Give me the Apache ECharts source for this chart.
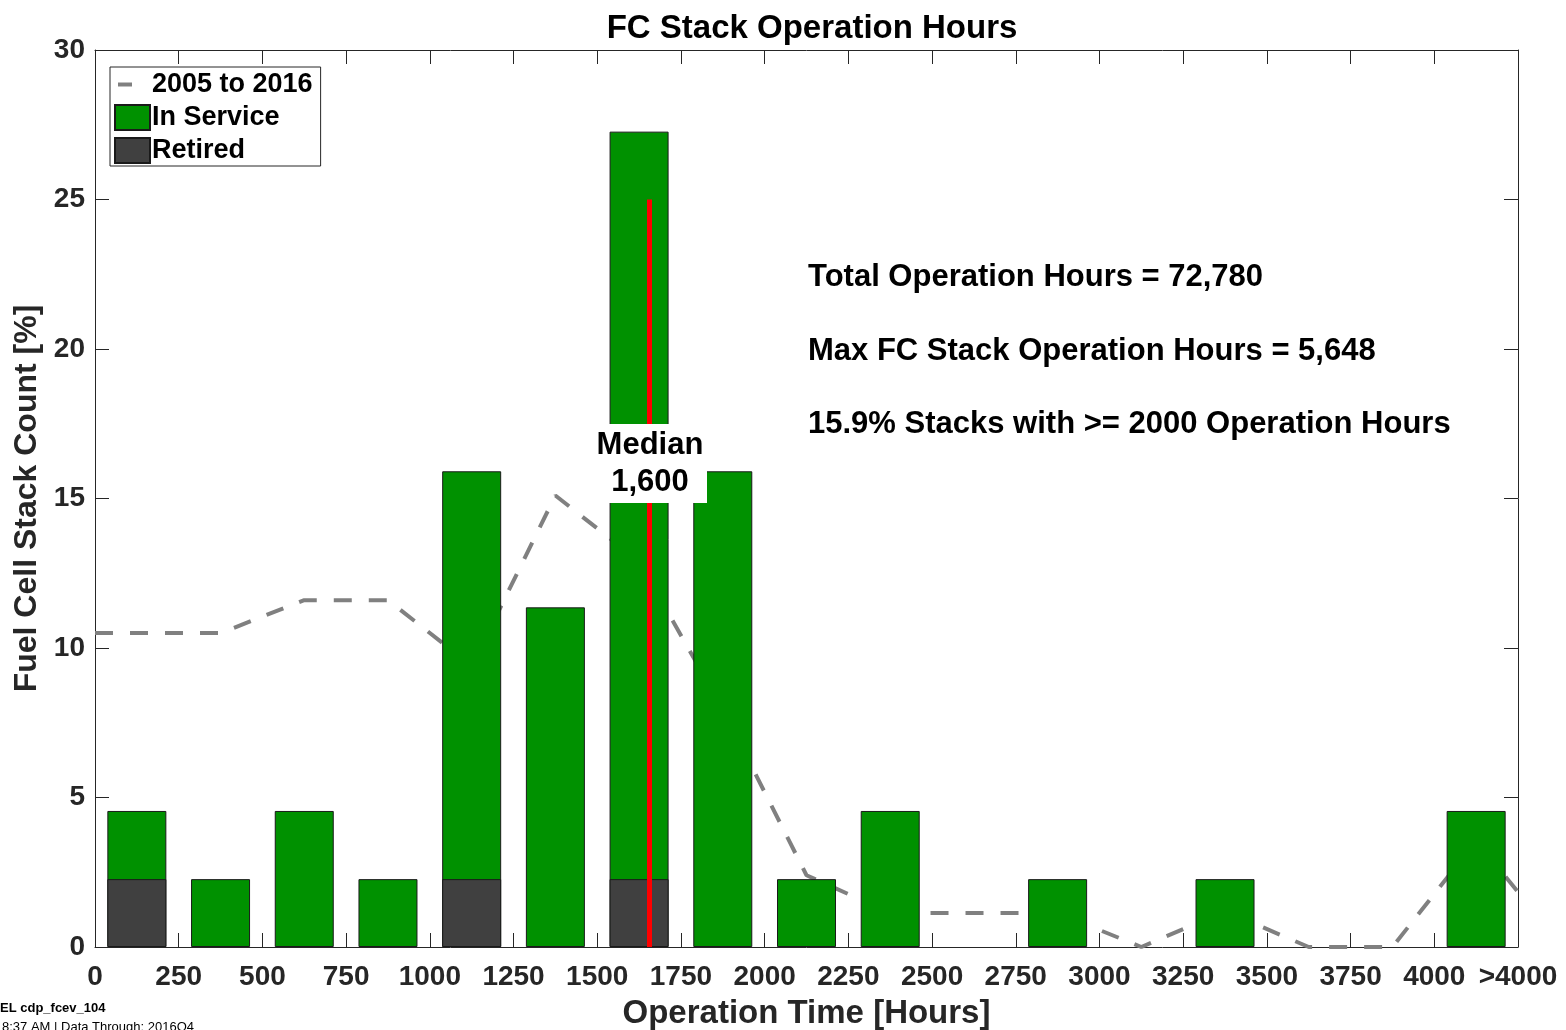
<!DOCTYPE html>
<html>
<head>
<meta charset="utf-8">
<title>FC Stack Operation Hours</title>
<script src="https://cdn.jsdelivr.net/npm/echarts@6/dist/echarts.min.js"></script>
<style>
  html, body { margin: 0; padding: 0; background: #fff; }
  #main { width: 1566px; height: 1030px; }
</style>
</head>
<body>
<div id="main"></div>
<script>
// bin centers (hours) and stack share per bin [%]
const binCenters = [125, 375, 625, 875, 1125, 1375, 1625, 1875, 2125, 2375, 2625, 2875, 3125, 3375, 3625, 3875, 4125];
const retired   = [2.27, 0, 0, 0, 2.27, 0, 2.27, 0, 0, 0, 0, 0, 0, 0, 0, 0, 0];
const inService = [2.28, 2.27, 4.55, 2.27, 13.64, 11.36, 25.0, 15.91, 2.27, 4.55, 0, 2.27, 0, 2.27, 0, 0, 4.55];

// 2005 to 2016 reference curve
const histX = [0, 125, 375, 625, 875, 1125, 1375, 1625, 1875, 2125, 2375, 2625, 2875, 3125, 3375, 3625, 3875, 4125, 4250];
const histY = [10.5, 10.5, 10.5, 11.6, 11.6, 9.4, 15.1, 12.9, 7.95, 2.4, 1.14, 1.14, 1.14, 0, 1.2, 0, 0, 3.55, 1.84];

const medianHours = 1655; // where the median marker is drawn
const medianTop = 25;

const notes = [
    'Total Operation Hours = 72,780',
    'Max FC Stack Operation Hours = 5,648',
    '15.9% Stacks with >= 2000 Operation Hours'
];

const FONT = 'Liberation Sans, Arial, Helvetica, sans-serif';
const AXIS_COLOR = '#262626';

// retired sits at the bottom, in service on top of it
const totals = binCenters.map((x, i) => [x, retired[i] + inService[i] || null]);
const retiredPts = binCenters.map((x, i) => [x, retired[i] || null]);

// ticks point into the plot, box axes stay on their own side
const tickIn = { show: true, inside: true, length: 14, lineStyle: { color: AXIS_COLOR, width: 1 } };
const boxLine = { show: true, onZero: false, lineStyle: { color: AXIS_COLOR, width: 1 } };

let myChart = echarts.init(document.getElementById('main'));

let option = {
    backgroundColor: '#ffffff',
    animation: false,
    title: {
        text: 'FC Stack Operation Hours',
        left: 807,
        top: 7,
        textAlign: 'center',
        textStyle: { fontFamily: FONT, fontSize: 33, fontWeight: 'bold', color: '#000' }
    },
    legend: {
        orient: 'vertical',
        left: 110,
        top: 67,
        padding: [4, 8, 2, 4],
        itemWidth: 35,
        itemHeight: 25,
        itemGap: 6,
        borderColor: '#262626',
        borderWidth: 1,
        backgroundColor: '#fff',
        textStyle: { fontFamily: FONT, fontSize: 27, fontWeight: 'bold', color: '#000', lineHeight: 25, padding: [0, 0, 0, -3] },
        data: [
            { name: '2005 to 2016', icon: 'path://M0,0M35,25M3,10.5h14v4h-14z', itemStyle: { color: '#808080', borderWidth: 0 } },
            { name: 'In Service', icon: 'rect' },
            { name: 'Retired', icon: 'rect' }
        ]
    },
    grid: { left: 95, right: 48, top: 50, bottom: 83, containLabel: false, outerBoundsMode: 'none' },
    xAxis: [{
        type: 'value',
        min: 0,
        max: 4250,
        interval: 250,
        name: 'Operation Time [Hours]',
        nameLocation: 'middle',
        nameGap: 50,
        nameTextStyle: { fontFamily: FONT, fontSize: 33, fontWeight: 'bold', color: AXIS_COLOR },
        axisLine: boxLine,
        axisTick: tickIn,
        axisLabel: {
            margin: 16,
            fontFamily: FONT, fontSize: 28, fontWeight: 'bold', color: AXIS_COLOR,
            formatter: function (v) { return v === 4250 ? '>4000' : String(v); }
        },
        splitLine: { show: false }
    }, {
        type: 'value',
        position: 'top',
        min: 0,
        max: 4250,
        interval: 250,
        axisLine: boxLine,
        axisTick: tickIn,
        axisLabel: { show: false },
        splitLine: { show: false }
    }],
    yAxis: [{
        type: 'value',
        min: 0,
        max: 30,
        interval: 5,
        name: 'Fuel Cell Stack Count [%]',
        nameLocation: 'middle',
        nameGap: 48,
        nameTextStyle: { fontFamily: FONT, fontSize: 32, fontWeight: 'bold', color: AXIS_COLOR },
        axisLine: boxLine,
        axisTick: tickIn,
        axisLabel: { margin: 10, fontFamily: FONT, fontSize: 28, fontWeight: 'bold', color: AXIS_COLOR },
        splitLine: { show: false }
    }, {
        type: 'value',
        position: 'right',
        min: 0,
        max: 30,
        interval: 5,
        axisLine: boxLine,
        axisTick: tickIn,
        axisLabel: { show: false },
        splitLine: { show: false }
    }],
    series: [
        {
            name: '2005 to 2016',
            type: 'line',
            z: 1,
            symbol: 'none',
            data: histX.map((x, i) => [x, histY[i]]),
            lineStyle: { color: '#808080', width: 4, type: [18, 17] },
            itemStyle: { color: '#808080' }
        },
        {
            name: 'In Service',
            type: 'bar',
            z: 2,
            barWidth: 59,
            barGap: '-100%',
            data: totals,
            itemStyle: { color: '#009100', borderColor: '#1a1a1a', borderWidth: 1 }
        },
        {
            name: 'Retired',
            type: 'bar',
            z: 3,
            barWidth: 59,
            barGap: '-100%',
            data: retiredPts,
            itemStyle: { color: '#404040', borderColor: '#1a1a1a', borderWidth: 1 },
            markLine: {
                silent: true,
                symbol: 'none',
                z: 4,
                label: { show: false },
                lineStyle: { color: '#ff0000', width: 5, type: 'solid' },
                data: [[{ coord: [medianHours, 0] }, { coord: [medianHours, medianTop] }]]
            }
        }
    ],
    graphic: [
        {
            type: 'rect',
            z: 100,
            shape: { x: 583, y: 424, width: 124, height: 79 },
            style: { fill: '#ffffff' }
        },
        {
            type: 'text', z: 101, x: 650, y: 445,
            style: { text: 'Median', font: 'bold 31px ' + FONT, fill: '#000', align: 'center', verticalAlign: 'middle' }
        },
        {
            type: 'text', z: 101, x: 650, y: 482,
            style: { text: '1,600', font: 'bold 31px ' + FONT, fill: '#000', align: 'center', verticalAlign: 'middle' }
        },
        {
            type: 'text', z: 101, x: 808, y: 277,
            style: { text: notes[0], font: 'bold 31px ' + FONT, fill: '#000', verticalAlign: 'middle' }
        },
        {
            type: 'text', z: 101, x: 808, y: 351,
            style: { text: notes[1], font: 'bold 31px ' + FONT, fill: '#000', verticalAlign: 'middle' }
        },
        {
            type: 'text', z: 101, x: 808, y: 424,
            style: { text: notes[2], font: 'bold 31px ' + FONT, fill: '#000', verticalAlign: 'middle' }
        },
        {
            type: 'text', z: 101, x: 0, y: 1008,
            style: { text: 'EL cdp_fcev_104', font: 'bold 13px ' + FONT, fill: '#000', verticalAlign: 'middle' }
        },
        {
            type: 'text', z: 101, x: 2, y: 1027,
            style: { text: '8:37 AM | Data Through: 2016Q4', font: '13px ' + FONT, fill: '#000', verticalAlign: 'middle' }
        }
    ]
};

myChart.setOption(option);
</script>
</body>
</html>
